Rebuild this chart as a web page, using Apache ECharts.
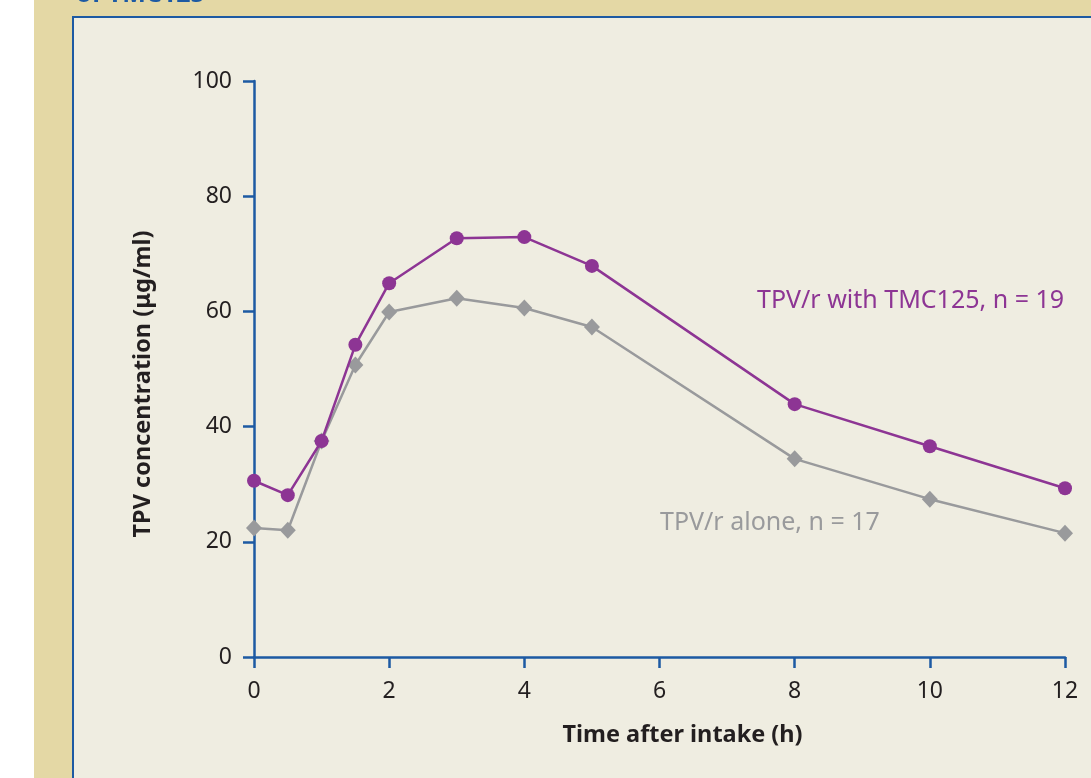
<!DOCTYPE html>
<html>
<head>
<meta charset="utf-8">
<script src="https://cdn.jsdelivr.net/npm/echarts@6/dist/echarts.min.js"></script>
<style>
html,body{margin:0;padding:0;background:#ffffff;}
#chart{width:1091px;height:778px;}
</style>
</head>
<body>
<div id="chart"></div>
<script>
const times = [0, 0.5, 1, 1.5, 2, 3, 4, 5, 8, 10, 12];
const withTMC = [30.6, 28.1, 37.5, 54.2, 64.9, 72.7, 72.9, 67.9, 43.9, 36.6, 29.3];
const alone = [22.4, 22.0, 37.5, 50.7, 59.9, 62.3, 60.6, 57.3, 34.4, 27.4, 21.5];
const xTicks = [0, 2, 4, 6, 8, 10, 12];
const yTicks = [0, 20, 40, 60, 80, 100];
const labelWith = 'TPV/r with TMC125, n = 19';
const labelAlone = 'TPV/r alone, n = 17';
const yName = 'TPV concentration (\u03bcg/ml)';
const xName = 'Time after intake (h)';
const headText = 'of TMC125';

const FONT = '"Noto Sans", "Open Sans", sans-serif';
const AXIS = '#1d5aa3';
const PURPLE = '#8d3594';
const GRAY = '#999a9c';
const TEXT = '#231f20';

const chart = echarts.init(document.getElementById('chart'), null, {renderer: 'canvas'});
chart.setOption({
  animation: false,
  backgroundColor: '#ffffff',
  textStyle: {fontFamily: FONT},
  graphic: [
    {type: 'rect', z: -10, silent: true, shape: {x: 34, y: 0, width: 1060, height: 780}, style: {fill: '#e4d8a5'}},
    {type: 'rect', z: -9, silent: true, shape: {x: 73, y: 17, width: 1030, height: 780}, style: {fill: '#efede1', stroke: '#1d5aa3', lineWidth: 2}},
    {type: 'text', z: -8, silent: true, left: 76, top: -18, style: {text: headText, fill: '#1d5aa3', font: 'bold 25px ' + FONT}},
    {type: 'text', left: 757, top: 288, style: {text: labelWith, fill: PURPLE, font: '25px ' + FONT}},
    {type: 'text', left: 660, top: 510, style: {text: labelAlone, fill: GRAY, font: '25px ' + FONT}}
  ],
  grid: {left: 254, right: 26, top: 81, bottom: 121, containLabel: false},
  xAxis: {
    type: 'value', min: 0, max: 12, interval: 2,
    name: xName, nameLocation: 'middle', nameGap: 66,
    nameTextStyle: {color: TEXT, fontSize: 23.5, fontWeight: 'bold', fontFamily: FONT, padding: [0, 0, 0, 46]},
    axisLine: {show: true, onZero: false, lineStyle: {color: AXIS, width: 2.5}},
    axisTick: {show: true, inside: false, length: 11, lineStyle: {color: AXIS, width: 2.5}},
    axisLabel: {color: TEXT, fontSize: 23, margin: 23, fontFamily: FONT,
      formatter: v => xTicks.includes(v) ? String(v) : ''},
    splitLine: {show: false}
  },
  yAxis: {
    type: 'value', min: 0, max: 100, interval: 20,
    name: yName, nameLocation: 'middle', nameGap: 99, nameRotate: 90,
    nameTextStyle: {color: TEXT, fontSize: 23.5, fontWeight: 'bold', fontFamily: FONT, padding: [0, 30, 0, 0]},
    axisLine: {show: true, onZero: false, lineStyle: {color: AXIS, width: 2.5}},
    axisTick: {show: true, inside: false, length: 11, lineStyle: {color: AXIS, width: 2.5}},
    axisLabel: {color: TEXT, fontSize: 23, margin: 22, fontFamily: FONT,
      formatter: v => yTicks.includes(v) ? String(v) : ''},
    splitLine: {show: false}
  },
  series: [
    {
      name: labelAlone, type: 'line', z: 2,
      data: times.map((t, i) => [t, alone[i]]),
      symbol: 'diamond', symbolSize: [16, 17],
      lineStyle: {color: GRAY, width: 2.5},
      itemStyle: {color: GRAY}
    },
    {
      name: labelWith, type: 'line', z: 3,
      data: times.map((t, i) => [t, withTMC[i]]),
      symbol: 'circle', symbolSize: 14,
      lineStyle: {color: PURPLE, width: 2.5},
      itemStyle: {color: PURPLE}
    }
  ]
});
</script>
</body>
</html>
